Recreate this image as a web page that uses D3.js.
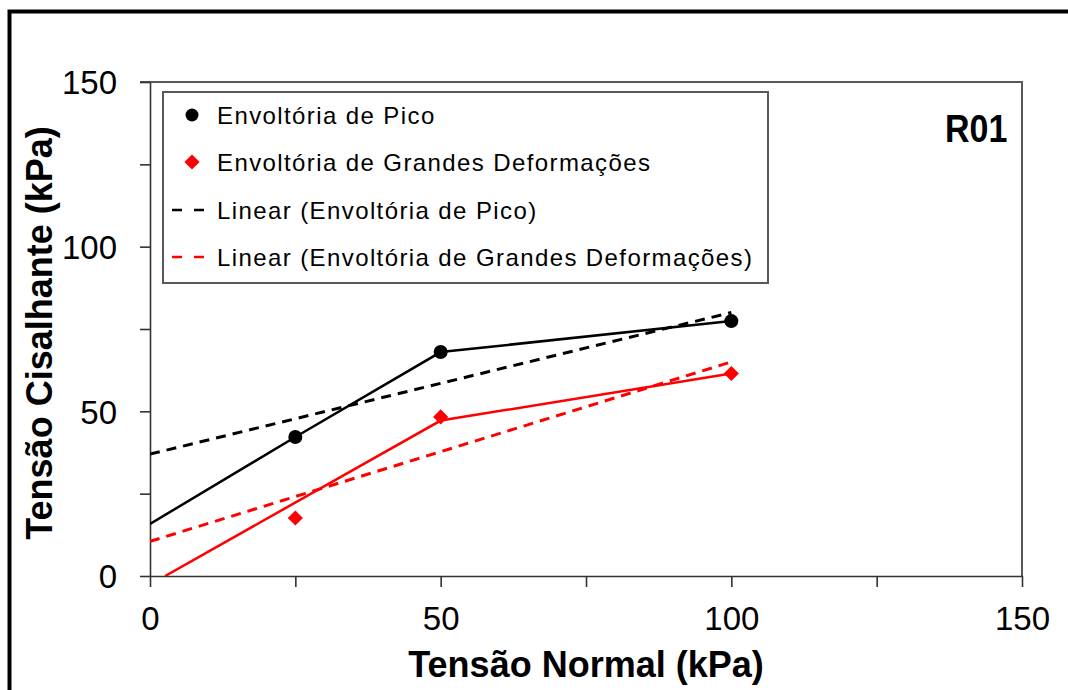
<!DOCTYPE html>
<html>
<head>
<meta charset="utf-8">
<script src="https://cdn.jsdelivr.net/npm/d3@7"></script>
<style>
  html, body { margin: 0; padding: 0; background: #fff; }
  svg { display: block; font-family: "Liberation Sans", Arial, sans-serif; }
</style>
</head>
<body>
<div id="chart"></div>
<script>
// measured points
var tensaoNormal = [25, 50, 100];
var picoValues = [42.2, 68, 77.4];
var grandesValues = [17.6, 48.3, 61.5];

// hand drawn solid lines through the points
var picoLineX = [0, 25, 50, 100];
var picoLineY = [15.8, 42.2, 68, 77.4];
var grandesLineX = [2.6, 50, 100];
var grandesLineY = [0, 47.2, 61.5];

// linear trend lines (ends)
var picoTrendX = [0, 100];
var picoTrendY = [37, 80];
var grandesTrendX = [0, 100];
var grandesTrendY = [10.5, 65];

var tickValues = [0, 25, 50, 75, 100, 125, 150];
var legendLabels = [
    "Envoltória de Pico",
    "Envoltória de Grandes Deformações",
    "Linear (Envoltória de Pico)",
    "Linear (Envoltória de Grandes Deformações)"
];

var W = 1068, H = 690;
var pLeft = 150, pRight = 1022, pTop = 82, pBottom = 576;

var svg = d3.select("#chart").append("svg")
    .attr("width", W).attr("height", H);

svg.append("rect").attr("width", W).attr("height", H).attr("fill", "#fff");

// outer frame
svg.append("rect")
    .attr("x", 9.5).attr("y", 11.5)
    .attr("width", W + 20).attr("height", H + 20)
    .attr("fill", "none").attr("stroke", "#000").attr("stroke-width", 4);

var x = d3.scaleLinear().domain([0, 150]).range([pLeft, pRight]);
var y = d3.scaleLinear().domain([0, 150]).range([pBottom, pTop]);

var fmt = function(d) { return d % 50 === 0 ? d : ""; };

// plot border top/right
svg.append("path")
    .attr("d", "M" + (pLeft - 10) + "," + pTop + "H" + pRight + "V" + pBottom)
    .attr("fill", "none").attr("stroke", "#595959").attr("stroke-width", 2);

var gx = svg.append("g")
    .attr("transform", "translate(0," + pBottom + ")")
    .call(d3.axisBottom(x).tickValues(tickValues).tickFormat(fmt)
        .tickSize(11).tickPadding(20).tickSizeOuter(0));
var gy = svg.append("g")
    .attr("transform", "translate(" + pLeft + ",0)")
    .call(d3.axisLeft(y).tickValues(tickValues).tickFormat(fmt)
        .tickSize(10).tickPadding(23).tickSizeOuter(0));

[gx, gy].forEach(function(g) {
    g.select(".domain").attr("stroke", "#333").attr("stroke-width", 1.6);
    g.selectAll(".tick line").attr("stroke", "#333").attr("stroke-width", 1.6);
    g.selectAll(".tick text")
        .attr("font-family", "Liberation Sans, Arial, sans-serif")
        .attr("font-size", 33).attr("fill", "#000");
});
gy.selectAll(".tick text").attr("dy", "0.36em");

// clip
svg.append("clipPath").attr("id", "clip")
    .append("rect").attr("x", pLeft).attr("y", pTop)
    .attr("width", pRight - pLeft).attr("height", pBottom - pTop);

var plot = svg.append("g").attr("clip-path", "url(#clip)");

var line = d3.line().x(function(d) { return x(d[0]); }).y(function(d) { return y(d[1]); });
function pairs(xs, ys) { return xs.map(function(v, i) { return [v, ys[i]]; }); }

plot.append("path").datum(pairs(picoTrendX, picoTrendY))
    .attr("d", line).attr("fill", "none").attr("stroke", "#000")
    .attr("stroke-width", 3).attr("stroke-dasharray", "10,7");
plot.append("path").datum(pairs(grandesTrendX, grandesTrendY))
    .attr("d", line).attr("fill", "none").attr("stroke", "#ff0000")
    .attr("stroke-width", 3).attr("stroke-dasharray", "10,7");
plot.append("path").datum(pairs(picoLineX, picoLineY))
    .attr("d", line).attr("fill", "none").attr("stroke", "#000").attr("stroke-width", 2.5);
plot.append("path").datum(pairs(grandesLineX, grandesLineY))
    .attr("d", line).attr("fill", "none").attr("stroke", "#ff0000").attr("stroke-width", 2.5);

var diamond = d3.symbol().type(d3.symbolSquare).size(115);

plot.selectAll(".pico").data(tensaoNormal).enter().append("circle")
    .attr("cx", function(d) { return x(d); })
    .attr("cy", function(d, i) { return y(picoValues[i]); })
    .attr("r", 7).attr("fill", "#000");
plot.selectAll(".grandes").data(tensaoNormal).enter().append("path")
    .attr("d", diamond)
    .attr("transform", function(d, i) { return "translate(" + x(d) + "," + y(grandesValues[i]) + ") rotate(45)"; })
    .attr("fill", "#ff0000");

// axis titles
svg.append("text")
    .attr("x", (pLeft + pRight) / 2).attr("y", 677)
    .attr("text-anchor", "middle").attr("font-size", 36).attr("font-weight", "bold")
    .text("Tensão Normal (kPa)");
svg.append("text")
    .attr("transform", "translate(52,333) rotate(-90)")
    .attr("text-anchor", "middle").attr("font-size", 36).attr("font-weight", "bold")
    .text("Tensão Cisalhante (kPa)");

// R01 label
svg.append("text")
    .attr("transform", "translate(945,142) scale(1,1.15)")
    .attr("font-size", 34).attr("font-weight", "bold")
    .text("R01");

// legend
var lg = svg.append("g");
lg.append("rect")
    .attr("x", 163).attr("y", 92).attr("width", 605).attr("height", 191)
    .attr("fill", "#fff").attr("stroke", "#595959").attr("stroke-width", 2);

var rowY = [115, 162, 210, 257];
lg.append("circle").attr("cx", 192).attr("cy", rowY[0]).attr("r", 6.5).attr("fill", "#000");
lg.append("path").attr("d", diamond)
    .attr("transform", "translate(192," + rowY[1] + ") rotate(45)").attr("fill", "#ff0000");
lg.append("line").attr("x1", 172).attr("x2", 204).attr("y1", rowY[2]).attr("y2", rowY[2])
    .attr("stroke", "#000").attr("stroke-width", 2.5).attr("stroke-dasharray", "10,12");
lg.append("line").attr("x1", 172).attr("x2", 204).attr("y1", rowY[3]).attr("y2", rowY[3])
    .attr("stroke", "#ff0000").attr("stroke-width", 2.5).attr("stroke-dasharray", "10,12");

lg.selectAll(".lt").data(legendLabels).enter().append("text")
    .attr("x", 217).attr("y", function(d, i) { return rowY[i] + 8.5; })
    .attr("font-size", 24).attr("letter-spacing", 1.4)
    .text(function(d) { return d; });
</script>
</body>
</html>
